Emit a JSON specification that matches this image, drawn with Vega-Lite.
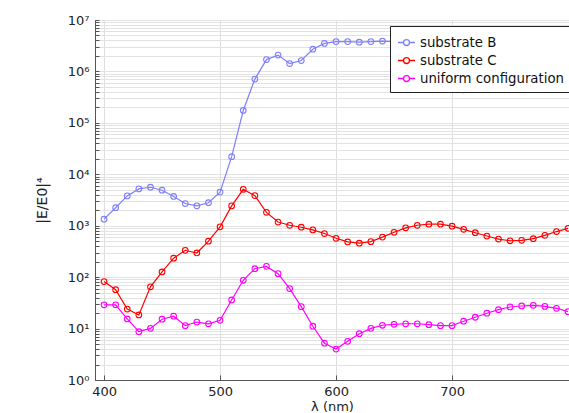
{
  "$schema": "https://vega.github.io/schema/vega-lite/v6.json",
  "width": 474,
  "height": 360,
  "autosize": {"type": "none"},
  "padding": {"left": 95, "top": 20, "right": 0, "bottom": 33},
  "background": "white",
  "config": {"font": "DejaVu Sans", "view": {"stroke": "#555", "strokeWidth": 1}},
  "datasets": {
    "d": [
      {"l":400,"s":"substrate B","v":1340},{"l":410,"s":"substrate B","v":2240},{"l":420,"s":"substrate B","v":3800},{"l":430,"s":"substrate B","v":5200},{"l":440,"s":"substrate B","v":5600},{"l":450,"s":"substrate B","v":4900},{"l":460,"s":"substrate B","v":3700},{"l":470,"s":"substrate B","v":2700},{"l":480,"s":"substrate B","v":2440},{"l":490,"s":"substrate B","v":2800},{"l":500,"s":"substrate B","v":4500},{"l":510,"s":"substrate B","v":22000},{"l":520,"s":"substrate B","v":174000},{"l":530,"s":"substrate B","v":710000},{"l":540,"s":"substrate B","v":1700000},{"l":550,"s":"substrate B","v":2080000},{"l":560,"s":"substrate B","v":1420000},{"l":570,"s":"substrate B","v":1630000},{"l":580,"s":"substrate B","v":2700000},{"l":590,"s":"substrate B","v":3500000},{"l":600,"s":"substrate B","v":3800000},{"l":610,"s":"substrate B","v":3800000},{"l":620,"s":"substrate B","v":3700000},{"l":630,"s":"substrate B","v":3800000},{"l":640,"s":"substrate B","v":3900000},{"l":650,"s":"substrate B","v":3800000},{"l":660,"s":"substrate B","v":3300000},{"l":670,"s":"substrate B","v":2600000},{"l":680,"s":"substrate B","v":1700000},{"l":690,"s":"substrate B","v":1000000},{"l":700,"s":"substrate B","v":600000},{"l":710,"s":"substrate B","v":440000},{"l":720,"s":"substrate B","v":550000},{"l":730,"s":"substrate B","v":900000},{"l":740,"s":"substrate B","v":1500000},{"l":750,"s":"substrate B","v":2300000},{"l":760,"s":"substrate B","v":3000000},{"l":770,"s":"substrate B","v":3400000},{"l":780,"s":"substrate B","v":3600000},{"l":790,"s":"substrate B","v":3700000},{"l":800,"s":"substrate B","v":3700000},
      {"l":400,"s":"substrate C","v":82},{"l":410,"s":"substrate C","v":57},{"l":420,"s":"substrate C","v":24},{"l":430,"s":"substrate C","v":18.4},{"l":440,"s":"substrate C","v":65},{"l":450,"s":"substrate C","v":126},{"l":460,"s":"substrate C","v":234},{"l":470,"s":"substrate C","v":333},{"l":480,"s":"substrate C","v":295},{"l":490,"s":"substrate C","v":500},{"l":500,"s":"substrate C","v":950},{"l":510,"s":"substrate C","v":2430},{"l":520,"s":"substrate C","v":5100},{"l":530,"s":"substrate C","v":3850},{"l":540,"s":"substrate C","v":1820},{"l":550,"s":"substrate C","v":1180},{"l":560,"s":"substrate C","v":1020},{"l":570,"s":"substrate C","v":935},{"l":580,"s":"substrate C","v":830},{"l":590,"s":"substrate C","v":705},{"l":600,"s":"substrate C","v":570},{"l":610,"s":"substrate C","v":484},{"l":620,"s":"substrate C","v":457},{"l":630,"s":"substrate C","v":490},{"l":640,"s":"substrate C","v":600},{"l":650,"s":"substrate C","v":745},{"l":660,"s":"substrate C","v":910},{"l":670,"s":"substrate C","v":1020},{"l":680,"s":"substrate C","v":1070},{"l":690,"s":"substrate C","v":1070},{"l":700,"s":"substrate C","v":980},{"l":710,"s":"substrate C","v":850},{"l":720,"s":"substrate C","v":730},{"l":730,"s":"substrate C","v":630},{"l":740,"s":"substrate C","v":550},{"l":750,"s":"substrate C","v":510},{"l":760,"s":"substrate C","v":520},{"l":770,"s":"substrate C","v":560},{"l":780,"s":"substrate C","v":650},{"l":790,"s":"substrate C","v":770},{"l":800,"s":"substrate C","v":890},
      {"l":400,"s":"uniform configuration","v":29},{"l":410,"s":"uniform configuration","v":29},{"l":420,"s":"uniform configuration","v":15.4},{"l":430,"s":"uniform configuration","v":8.7},{"l":440,"s":"uniform configuration","v":10.1},{"l":450,"s":"uniform configuration","v":15.2},{"l":460,"s":"uniform configuration","v":17.4},{"l":470,"s":"uniform configuration","v":11.4},{"l":480,"s":"uniform configuration","v":13.4},{"l":490,"s":"uniform configuration","v":12.4},{"l":500,"s":"uniform configuration","v":14.5},{"l":510,"s":"uniform configuration","v":36},{"l":520,"s":"uniform configuration","v":87},{"l":530,"s":"uniform configuration","v":146},{"l":540,"s":"uniform configuration","v":162},{"l":550,"s":"uniform configuration","v":117},{"l":560,"s":"uniform configuration","v":60},{"l":570,"s":"uniform configuration","v":26.7},{"l":580,"s":"uniform configuration","v":11.1},{"l":590,"s":"uniform configuration","v":5.2},{"l":600,"s":"uniform configuration","v":4.0},{"l":610,"s":"uniform configuration","v":5.65},{"l":620,"s":"uniform configuration","v":7.95},{"l":630,"s":"uniform configuration","v":10.1},{"l":640,"s":"uniform configuration","v":11.6},{"l":650,"s":"uniform configuration","v":12.1},{"l":660,"s":"uniform configuration","v":12.4},{"l":670,"s":"uniform configuration","v":12.4},{"l":680,"s":"uniform configuration","v":11.9},{"l":690,"s":"uniform configuration","v":11.4},{"l":700,"s":"uniform configuration","v":11.4},{"l":710,"s":"uniform configuration","v":13.9},{"l":720,"s":"uniform configuration","v":16.6},{"l":730,"s":"uniform configuration","v":19.9},{"l":740,"s":"uniform configuration","v":23.3},{"l":750,"s":"uniform configuration","v":26.3},{"l":760,"s":"uniform configuration","v":27.5},{"l":770,"s":"uniform configuration","v":28.3},{"l":780,"s":"uniform configuration","v":27.0},{"l":790,"s":"uniform configuration","v":24.8},{"l":800,"s":"uniform configuration","v":21.3}
    ]
  },
  "data": {"name": "d"},
  "mark": {"type": "line", "strokeWidth": 1.2, "point": {"filled": false, "size": 32, "strokeWidth": 1.1}},
  "encoding": {
    "x": {
      "field": "l", "type": "quantitative",
      "scale": {"domain": [392.2, 800.8], "nice": false, "zero": false},
      "axis": {
        "values": [400, 500, 600, 700],
        "title": "λ (nm)", "titleFont": "DejaVu Sans", "titleFontSize": 13, "titleFontWeight": "normal", "titleColor": "#222", "titlePadding": 2,
        "labelFontSize": 13, "labelColor": "#222", "labelPadding": 10, "labelFont": "DejaVu Sans",
        "tickSize": -5, "tickColor": "#555", "domainColor": "#555",
        "grid": true, "gridColor": "#dedede", "gridWidth": 1
      }
    },
    "y": {
      "field": "v", "type": "quantitative",
      "scale": {"type": "log", "domain": [1, 10000000], "nice": false},
      "axis": {
        "values": [1,2,3,4,5,6,7,8,9,10,20,30,40,50,60,70,80,90,100,200,300,400,500,600,700,800,900,1000,2000,3000,4000,5000,6000,7000,8000,9000,10000,20000,30000,40000,50000,60000,70000,80000,90000,100000,200000,300000,400000,500000,600000,700000,800000,900000,1000000,2000000,3000000,4000000,5000000,6000000,7000000,8000000,9000000,10000000],
        "labelExpr": "abs(log(datum.value)/LN10 - round(log(datum.value)/LN10)) < 0.000001 ? '10' + ['⁰','¹','²','³','⁴','⁵','⁶','⁷'][round(log(datum.value)/LN10)] : ''",
        "labelOverlap": false, "labelFontSize": 13, "labelColor": "#222", "labelFont": "DejaVu Sans", "labelPadding": 10,
        "tickSize": -4, "tickColor": "#555", "domainColor": "#555",
        "grid": true, "gridColor": "#e2e2e2", "gridWidth": 1,
        "title": "|E/E0|⁴", "titleFont": "DejaVu Sans", "titleFontSize": 14, "titleFontWeight": "normal", "titleColor": "#222", "titlePadding": 18
      }
    },
    "color": {
      "field": "s", "type": "nominal",
      "scale": {"domain": ["substrate B", "substrate C", "uniform configuration"], "range": ["#7f7fff", "#ff0000", "#ff00ff"]},
      "legend": {
        "title": null, "orient": "none", "legendX": 295, "legendY": 6,
        "fillColor": "white", "strokeColor": "#222", "padding": 7, "rowPadding": 2,
        "labelFontSize": 13.3, "labelFont": "DejaVu Sans", "labelColor": "#111", "labelLimit": 300, "labelOffset": 4,
        "symbolType": "M-1,0L-0.35,0M0.35,0L1,0M-0.35,0A0.35,0.35 0 1,1 0.35,0A0.35,0.35 0 1,1 -0.35,0",
        "symbolSize": 289, "symbolStrokeWidth": 1.3, "symbolFillColor": "transparent"
      }
    }
  }
}
